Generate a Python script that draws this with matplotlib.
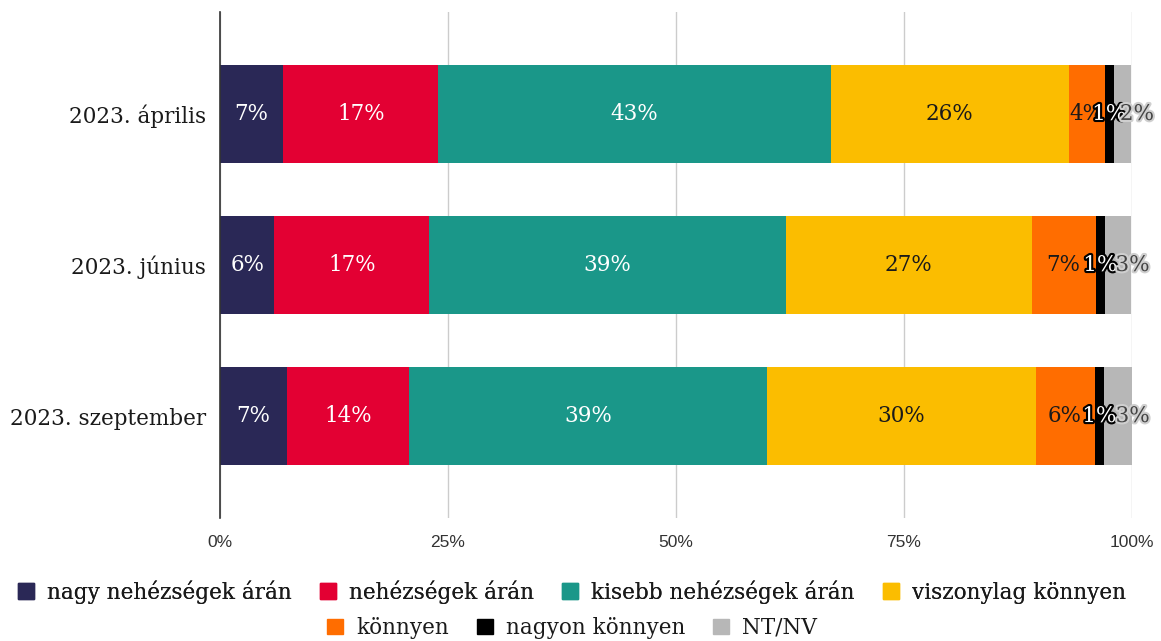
import matplotlib
matplotlib.use("Agg")
import matplotlib.pyplot as plt
import matplotlib.patheffects as pe
from matplotlib.patches import Patch

categories = ["2023. április", "2023. június", "2023. szeptember"]
series_names = ["nagy nehézségek árán", "nehézségek árán", "kisebb nehézségek árán",
                "viszonylag könnyen", "könnyen", "nagyon könnyen", "NT/NV"]
# measured segment shares (%) per category
values = [
    [6.95, 5.96, 7.34],    # nagy nehézségek árán
    [17.0, 17.0, 13.4],    # nehézségek árán
    [43.0, 39.06, 39.25],  # kisebb nehézségek árán
    [26.1, 27.0, 29.44],   # viszonylag könnyen
    [3.95, 6.99, 6.47],    # könnyen
    [0.99, 1.02, 1.02],    # nagyon könnyen
    [1.9, 2.85, 3.1],      # NT/NV
]
labels = [
    ["7%", "6%", "7%"],
    ["17%", "17%", "14%"],
    ["43%", "39%", "39%"],
    ["26%", "27%", "30%"],
    ["4%", "7%", "6%"],
    ["1%", "1%", "1%"],
    ["2%", "3%", "3%"],
]
xticks = [0, 25, 50, 75, 100]
xticklabels = ["0%", "25%", "50%", "75%", "100%"]

colors = ["#2a2856", "#e30033", "#1a9789", "#fbbd00", "#ff6d00", "#000000", "#b7b7b7"]
text_colors = ["white", "white", "white", "#1a1a1a", "#1a1a1a", "white", "#444444"]

serif = ["DejaVu Serif"]
FS = 15.5
W, H = 1161, 641
fig = plt.figure(figsize=(W / 100, H / 100), dpi=100)
ax = fig.add_axes([220 / W, 1 - 518 / H, (1132 - 220) / W, (518 - 12) / H])

ypos = list(range(len(categories)))
left = [0.0] * len(categories)
for i, (name, vals) in enumerate(zip(series_names, values)):
    bars = ax.barh(ypos, vals, left=left, height=0.65, color=colors[i], label=name, zorder=3)
    for j, b in enumerate(bars):
        cx = b.get_x() + b.get_width() / 2
        dx = 1.6 if i == len(series_names) - 1 else 0
        if i == 5:
            fx = [pe.withStroke(linewidth=3, foreground="black")]
        elif i == 6:
            fx = [pe.withStroke(linewidth=3, foreground="#cfcfcf")]
        else:
            fx = []
        ax.text(cx + dx, b.get_y() + b.get_height() / 2, labels[i][j], ha="center", va="center",
                color=text_colors[i], fontsize=FS, family=serif, zorder=5, path_effects=fx)
    left = [l + v for l, v in zip(left, vals)]

ax.set_ylim(2.675, -0.675)
ax.set_xlim(0, 100)
ax.set_yticks(ypos)
ax.set_yticklabels(categories, family=serif, fontsize=FS, color="#1a1a1a")
ax.set_xticks(xticks)
ax.set_xticklabels(xticklabels, family="Liberation Sans", fontsize=12.5, color="#333333")
ax.tick_params(axis="both", length=0)
ax.tick_params(axis="x", pad=12)
ax.tick_params(axis="y", pad=10)
ax.grid(axis="x", color="#cccccc", linewidth=1, zorder=0)
for s in ["top", "right", "bottom"]:
    ax.spines[s].set_visible(False)
ax.spines["left"].set_color("#333333")
ax.spines["left"].set_linewidth(1.2)
ax.spines["left"].set_zorder(6)

handles = [Patch(facecolor=c, edgecolor=c) for c in colors]
legkw = dict(loc="center", frameon=False, prop={"family": serif, "size": FS},
             handlelength=0.75, handleheight=0.75, columnspacing=1.3, handletextpad=0.6,
             labelcolor="#1a1a1a")
cx_leg = 572 / W
leg1 = fig.legend(handles[:4], series_names[:4], bbox_to_anchor=(cx_leg, 1 - 592 / H), ncol=4, **legkw)
leg2 = fig.legend(handles[4:], series_names[4:], bbox_to_anchor=(cx_leg, 1 - 628 / H), ncol=3, **legkw)
fig.add_artist(leg1)

fig.savefig("out.png", dpi=100)
